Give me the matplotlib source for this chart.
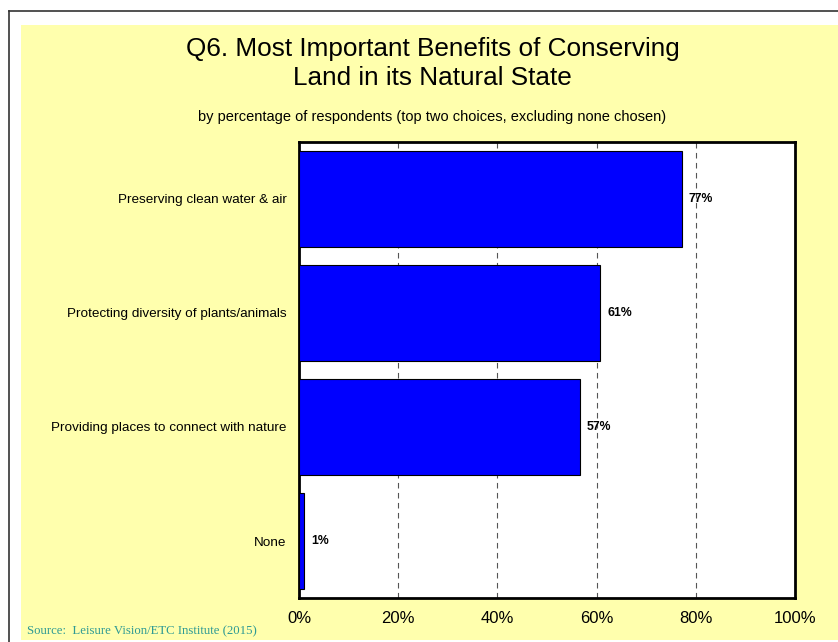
import matplotlib
matplotlib.use("Agg")
import matplotlib.pyplot as plt
from matplotlib.patches import Rectangle
from matplotlib.lines import Line2D

plt.rcParams['font.family'] = ['Liberation Sans', 'DejaVu Sans']

categories = ['Preserving clean water & air',
              'Protecting diversity of plants/animals',
              'Providing places to connect with nature',
              'None']
values = [77.2, 60.7, 56.6, 1.0]
xticks = [0, 20, 40, 60, 80, 100]
xtick_labels = ['0%', '20%', '40%', '60%', '80%', '100%']

W, H = 838, 642
fig = plt.figure(figsize=(W / 100, H / 100), dpi=100, facecolor='white')

# yellow panel and outer frame
fig.add_artist(Rectangle((21 / W, 2 / H), 1 - 21 / W, 615 / H, transform=fig.transFigure,
                         facecolor='#FFFFAD', edgecolor='none', zorder=0))
fig.add_artist(Line2D([9 / W, 9 / W], [0, 1 - 10.5 / H], transform=fig.transFigure,
                      color='#333333', lw=1.2))
fig.add_artist(Line2D([9 / W, 1], [1 - 10.5 / H, 1 - 10.5 / H], transform=fig.transFigure,
                      color='#333333', lw=1.2))

ax = fig.add_axes([299 / W, 44 / H, 496 / W, 456 / H])
ax.set_facecolor('white')

ypos = list(range(len(categories)))
ax.barh(ypos, values, height=0.84, color='#0000FF', edgecolor='black', linewidth=0.8, zorder=3)
for y, v in zip(ypos, values):
    ax.text(v + 1.4, y, f'{v:.0f}%', va='center', ha='left', fontsize=8.8,
            fontweight='bold', zorder=4)

ax.set_xlim(0, 100)
ax.set_ylim(len(categories) - 0.5, -0.5)
ax.set_yticks(ypos)
ax.set_yticklabels(categories, fontsize=9.7)
ax.set_xticks(xticks)
ax.set_xticklabels(xtick_labels, fontsize=12)
ax.tick_params(length=0)
ax.tick_params(axis='x', pad=9.5)
ax.tick_params(axis='y', pad=9)
for xv in xticks[1:-1]:
    ax.axvline(xv, color='#555555', lw=0.8, ls=(0, (5, 4)), zorder=1)
for s in ax.spines.values():
    s.set_linewidth(2)
    s.set_color('black')

fig.text(0.516, 1 - 49 / H, 'Q6. Most Important Benefits of Conserving', ha='center', va='center',
         fontsize=18.8)
fig.text(0.516, 1 - 78 / H, 'Land in its Natural State', ha='center', va='center', fontsize=18.8)
fig.text(0.516, 1 - 117 / H,
         'by percentage of respondents (top two choices, excluding none chosen)',
         ha='center', va='center', fontsize=10.5)
fig.text(27 / W, 1 - 631 / H, 'Source:  Leisure Vision/ETC Institute (2015)', ha='left',
         va='center', fontsize=9.2, family=['Liberation Serif', 'DejaVu Serif'], color='#2E9A94')

fig.savefig('out.png', dpi=100)
